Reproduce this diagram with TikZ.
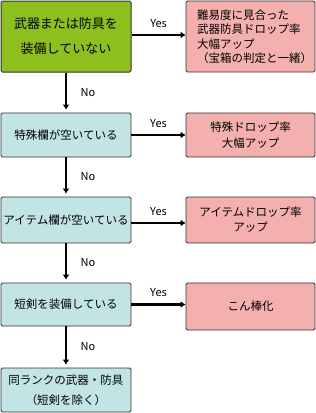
\documentclass[tikz,border=0pt]{standalone}
\usepackage{fontspec}
\setmainfont{Noto Sans CJK JP}
\usetikzlibrary{arrows.meta, positioning}
\definecolor{startgreen}{HTML}{8DBF1E}
\definecolor{condblue}{HTML}{C2E4E4}
\definecolor{resred}{HTML}{F4AFAF}

\begin{document}
\begin{tikzpicture}[x=1pt, y=-1pt,
  cond/.style={rectangle, draw=black!80, line width=0.8pt, rounded corners=1.5pt, fill=condblue, minimum width=130pt, inner sep=0pt, align=center, font=\fontsize{11.5}{20}\selectfont},
  res/.style={rectangle, draw=black!80, line width=0.8pt, rounded corners=1.5pt, fill=resred, minimum width=129pt, inner sep=0pt, align=center, font=\fontsize{11.5}{16}\selectfont},
  arr/.style={-{Latex[length=5pt, width=7pt]}, line width=2.6pt},
  lbl/.style={font=\fontsize{11}{13}\selectfont}
]
\useasboundingbox (0,0) rectangle (316,413);

% Conditions
\node[cond, fill=startgreen, line width=1pt, minimum height=71pt, font=\fontsize{13}{25}\selectfont] (weapon) at (66,36.5) {武器または防具を\\装備していない};
\node[cond, minimum height=44pt] (special) at (66,135) {特殊欄が空いている};
\node[cond, minimum height=46pt] (item) at (66,220) {アイテム欄が空いている};
\node[cond, minimum height=43pt] (dagger) at (66,304.5) {短剣を装備している};
\node[cond, minimum height=44pt] (rank) at (66,390) {同ランクの武器・防具\\（短剣を除く）};

% Results
\node[res, minimum height=71pt, align=left, text width=107pt, font=\fontsize{11.5}{14.5}\selectfont] (bigup) at (250.5,36.5) {難易度に見合った\\武器防具ドロップ率\\大幅アップ\\（宝箱の判定と一緒）};
\node[res, minimum height=44pt] (specialup) at (250.5,135) {特殊ドロップ率\\大幅アップ};
\node[res, minimum height=46pt, font=\fontsize{11.5}{15}\selectfont] (itemup) at (250.5,220) {アイテムドロップ率\\アップ};
\node[res, minimum height=47pt] (club) at (250.5,306.5) {こん棒化};

% Yes
\draw[arr] (weapon.east |- 0,35) -- node[lbl, above=3pt] {Yes} (bigup.west |- 0,35);
\draw[arr] (special) -- node[lbl, above=3pt] {Yes} (specialup);
\draw[arr] (item.east |- 0,223) -- node[lbl, above=3pt] {Yes} (itemup.west |- 0,223);
\draw[arr] (dagger) -- node[lbl, above=3pt] {Yes} (dagger -| club.west);

% No
\draw[arr, shorten >=3pt] (weapon) -- node[lbl, right=10pt] {No} (special);
\draw[arr, shorten >=3pt] (special) -- node[lbl, right=10pt] {No} (item);
\draw[arr, shorten >=3pt] (item) -- node[lbl, right=10pt] {No} (dagger);
\draw[arr, shorten >=3pt] (dagger) -- node[lbl, right=10pt] {No} (rank);

\end{tikzpicture}
\end{document}
